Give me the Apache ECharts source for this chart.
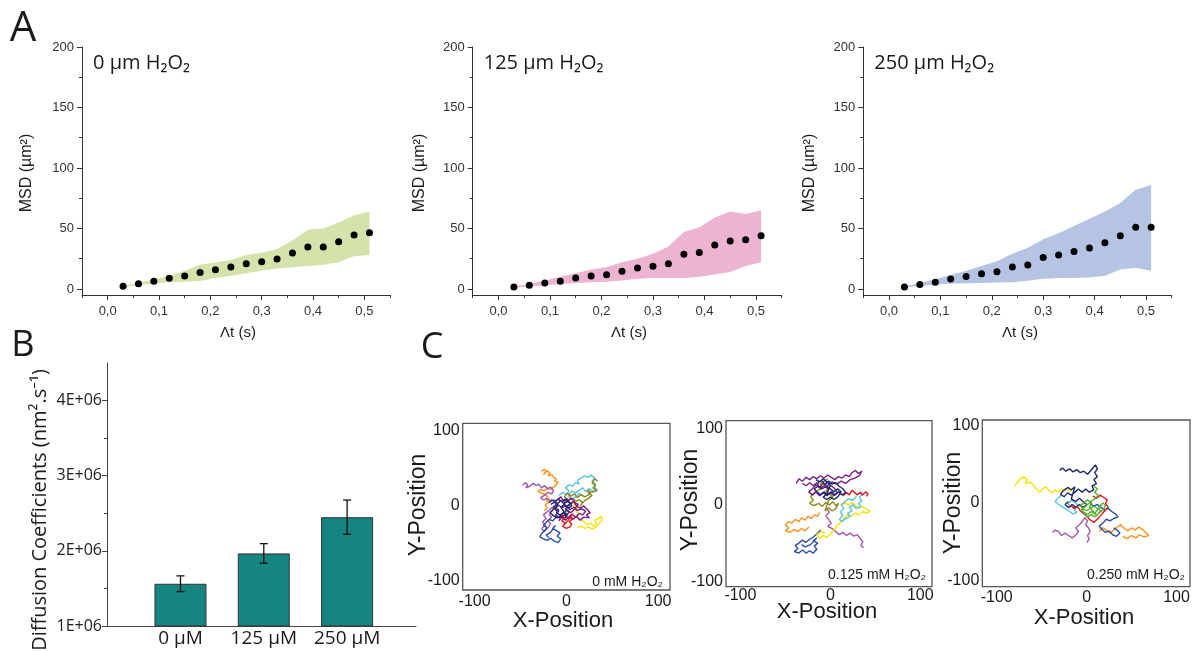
<!DOCTYPE html>
<html><head><meta charset="utf-8">
<script src="https://cdn.jsdelivr.net/npm/echarts@6/dist/echarts.min.js"></script>
<style>html,body{margin:0;padding:0;background:#fff}#c{width:1193px;height:651px}</style>
</head><body><div id="c"></div><script>
// ---------- Panel A data ----------
const dtValues = [0.03,0.06,0.09,0.12,0.15,0.18,0.21,0.24,0.27,0.30,0.33,0.36,0.39,0.42,0.45,0.48,0.51];
const msd0   = [2.2,4.4,6.3,8.8,10.7,13.7,15.9,18.1,20.9,22.5,24.7,29.7,34.6,34.6,39,44.5,46.4];
const msd0Hi = [2.5,5,8,11,15,20,22,24,28,30,33,40,49,50,55,61,64];
const msd0Lo = [1.5,3,4.5,5.5,6,6.5,9,11,13,15,17,18,19,20,22,27,28];
const msd125   = [1.6,3,4.9,6.3,9,10.7,11.8,14.6,17.3,18.7,20.9,28.6,30.2,36.3,39.6,40.7,44];
const msd125Hi = [2,4,7,10,13,16,18,22,25,29,35,47,51,59,64,62,65];
const msd125Lo = [1,2,3,4,5,5.5,6,7,8.5,9,9,9,10,12,14,19,22];
const msd250   = [1.6,3.6,5.5,8.2,10.2,12.6,14.3,18.1,19.8,26.1,28,31,33.8,38.2,44,51,51];
const msd250Hi = [2,5,8,11.5,15,19,23,29,34,41,46,52,58,64,71,82,86];
const msd250Lo = [1.2,2.5,3.5,4.2,4.7,5,5.3,5.5,6.8,8.5,9,9,9.5,11,16,17.5,15];
const aTitles = ['0 µm H₂O₂','125 µm H₂O₂','250 µm H₂O₂'];
const aXTicks = [0,0.1,0.2,0.3,0.4,0.5];
const aXMinor = [-0.05,0.05,0.15,0.25,0.35,0.45,0.55];
const aYTicks = [0,50,100,150,200];
const aYMinor = [25,75,125,175];

// ---------- Panel B data ----------
const bCategories = ['0 µM','125 µM','250 µM'];
const bValues = [1.562e6,1.966e6,2.448e6];
const bErrors = [0.105e6,0.13e6,0.228e6];
const bYTicks = [1e6,2e6,3e6,4e6];
const bYMinor = [1.5e6,2.5e6,3.5e6];

// ---------- Panel C data (trajectories) ----------
const cTicks = [-100,0,100];
const cLabels = ['0 mM H₂O₂','0.125 mM H₂O₂','0.250 mM H₂O₂'];
const c1Orange = [[-27,46],[-24,49],[-22,45],[-25,42],[-21,47],[-18,44],[-20,40],[-16,42],[-14,38],[-11,36],[-13,33],[-9,32],[-11,28],[-14,25],[-17,22],[-21,23],[-24,20],[-28,22],[-31,19],[-27,17],[-23,15],[-20,12],[-22,8],[-19,5],[-23,2],[-21,-3],[-24,-6]];
const c1Violet = [[-48,27],[-45,31],[-42,28],[-44,24],[-40,26],[-36,30],[-33,27],[-30,29],[-27,24],[-24,27],[-20,23],[-17,25],[-14,20],[-16,16],[-20,18],[-24,14],[-28,11],[-25,8],[-21,10],[-17,6],[-13,8],[-10,4],[-13,0],[-17,-4],[-21,-8],[-25,-12],[-22,-17],[-26,-21],[-23,-26],[-27,-30],[-24,-34],[-20,-29],[-17,-24],[-20,-20],[-16,-15],[-19,-11]];
const c1Cyan = [[-8,14],[-4,18],[0,15],[3,20],[-1,24],[3,28],[7,26],[10,31],[14,29],[12,34],[16,37],[20,40],[24,38],[27,41],[31,37],[28,33],[32,29],[30,25],[34,21],[29,19],[25,23],[21,19],[18,24],[14,21],[10,17],[6,20],[2,13],[6,9],[10,12],[14,17],[18,13]];
const c1Olive = [[34,33],[31,36],[28,31],[32,27],[29,24],[33,20],[27,18],[23,21],[25,15],[20,12],[16,15],[12,11],[9,16],[5,13],[1,17],[-2,12],[2,8],[6,10],[10,6],[14,8],[18,4],[15,0],[20,7],[24,10],[28,14],[24,18]];
const c1Yellow = [[6,8],[10,4],[8,0],[12,-3],[10,-7],[14,-10],[11,-14],[15,-18],[19,-21],[23,-25],[27,-23],[30,-27],[33,-24],[31,-19],[35,-17],[38,-14],[39,-19],[36,-23],[33,-28],[28,-31],[24,-28],[20,-30],[16,-27],[12,-29]];
const c1Purple = [[-10,8],[-6,12],[-3,6],[1,9],[4,3],[8,6],[11,0],[15,-3],[19,0],[23,-5],[26,-9],[22,-12],[25,-16],[19,-15],[15,-19],[11,-14],[7,-18],[3,-14],[-1,-19],[-5,-15],[-8,-20],[-4,-10],[0,-6],[5,-9],[9,-4],[13,2],[8,5],[2,1],[-4,-2],[-9,1],[-13,-4],[-9,-8],[-12,-13],[-7,-16],[-2,-12],[2,-16],[6,-11],[10,-15],[14,-10],[18,-12],[21,-7],[17,-4],[12,-6],[8,-2],[4,-5],[0,-1],[-3,3],[1,6],[5,10],[9,7]];
const c1Navy = [[-17,2],[-13,5],[-9,1],[-12,-3],[-8,-6],[-11,-9],[-7,-12],[-3,-9],[0,-13],[3,-8],[-1,-4],[2,0],[5,3],[1,6],[-3,3],[-6,7],[-9,4],[-13,-1],[-15,-6],[-18,-9],[-14,-13],[-10,-16],[-6,-13],[-2,-17],[1,-12],[-3,-7],[-6,-2],[-2,2],[2,-3],[6,0],[3,5],[-1,9],[-5,6],[-9,9],[-12,6],[-16,8],[-19,4]];
const c1Blue = [[-10,-12],[-12,-16],[-15,-20],[-19,-18],[-22,-22],[-25,-26],[-21,-29],[-24,-33],[-27,-37],[-29,-41],[-25,-44],[-21,-46],[-17,-43],[-13,-47],[-9,-49],[-6,-44],[-10,-40],[-7,-36],[-11,-33],[-15,-30],[-12,-26],[-17,-35],[-22,-39],[-19,-42]];
const c1Red = [[-5,-12],[-2,-16],[-5,-20],[-1,-23],[-4,-27],[0,-30],[4,-28],[6,-24],[3,-21],[7,-17],[4,-14],[7,-11],[2,-19],[-2,-25]];

const c2Purple = [[-38,28],[-35,34],[-31,31],[-27,36],[-23,33],[-19,37],[-15,34],[-11,38],[-7,35],[-3,39],[1,36],[5,33],[9,37],[13,35],[17,39],[21,37],[24,42],[28,45],[31,41],[35,44],[32,38],[27,35],[22,33],[17,28],[12,31],[7,27],[2,30],[-3,25],[-8,28],[-12,23],[-16,26],[-20,21],[-24,17],[-20,13],[-16,17],[-12,12],[-8,16],[-4,12],[0,16],[4,12],[8,16],[5,21],[1,25],[-3,21],[-7,25],[-11,21],[-15,29],[-19,25],[-23,29],[-27,25],[-31,28]];
const c2Olive = [[-3,34],[-7,31],[-11,27],[-9,22],[-14,19],[-18,15],[-22,11],[-19,6],[-23,2],[-18,-1],[-13,2],[-9,-2],[-5,3],[-1,0],[3,4],[6,-1],[9,2],[6,-5],[2,-8],[-2,-4],[-6,-8],[-2,6],[3,10],[-1,14],[-5,18],[-1,22],[-6,26],[-10,30]];
const c2Navy = [[-14,28],[-10,32],[-6,27],[-2,31],[2,27],[6,29],[10,24],[14,21],[17,16],[13,13],[9,17],[5,13],[1,17],[-3,13],[-7,17],[-11,13],[-15,17],[-18,21],[-14,24],[-9,21],[-5,24],[0,21],[4,17],[8,21],[12,17],[8,10],[4,7],[0,10],[-4,7],[-8,10],[-4,14],[0,26],[-4,30],[-8,34],[-12,30],[-16,33]];
const c2Red = [[14,12],[18,16],[21,13],[24,19],[27,16],[30,13],[33,16],[36,13],[39,17],[42,14],[40,11]];
const c2Cyan = [[33,18],[36,14],[32,10],[35,5],[31,2],[34,-2],[29,-5],[25,0],[21,-3],[24,-8],[19,-11],[22,-15],[17,-18],[13,-22],[10,-19],[14,-14],[11,-9],[15,-5],[12,0],[16,4],[20,8],[25,6],[29,11]];
const c2Yellow = [[12,-2],[16,3],[20,0],[24,3],[28,-1],[32,-4],[36,-2],[40,-6],[44,-8],[41,-11],[36,-9],[32,-13],[27,-11],[23,-15],[19,-13],[15,-18],[11,-23],[7,-28],[4,-33],[0,-38],[-4,-43],[-8,-40],[-12,-44],[-15,-39],[-10,-35],[-6,-37]];
const c2Orange = [[-12,-10],[-14,-15],[-18,-13],[-21,-18],[-25,-15],[-28,-20],[-32,-17],[-35,-22],[-39,-19],[-43,-24],[-47,-22],[-50,-27],[-46,-30],[-50,-34],[-45,-36],[-40,-32],[-36,-35],[-32,-31],[-28,-34],[-24,-29]];
const c2Blue = [[-11,-33],[-15,-38],[-19,-42],[-23,-45],[-27,-49],[-31,-46],[-35,-50],[-39,-53],[-36,-57],[-40,-61],[-35,-63],[-31,-59],[-27,-63],[-23,-60],[-19,-63],[-15,-58],[-18,-54],[-14,-50],[-19,-47],[-15,-43],[-22,-52],[-28,-55],[-32,-52]];
const c2Violet = [[-4,-5],[-1,-10],[-5,-14],[-2,-19],[1,-24],[-3,-28],[2,-31],[6,-35],[10,-39],[14,-36],[18,-40],[22,-37],[26,-41],[30,-39],[33,-44],[36,-48],[34,-53],[37,-56]];

const c3Navy = [[-30,42],[-27,45],[-23,41],[-19,44],[-15,40],[-11,43],[-7,39],[-3,41],[1,37],[4,41],[7,45],[10,49],[12,44],[9,39],[12,34],[8,30],[11,25],[6,22],[8,17],[3,14],[-1,18],[-5,14],[-9,18],[-13,14],[-17,10],[-21,13],[-25,8],[-29,11],[-26,16],[-21,20],[-17,17],[-13,21],[-17,5],[-12,2],[-8,6],[-4,2],[0,-2],[-4,-6],[-8,-2],[-12,-6],[-16,-2],[-20,-6],[-24,-2],[-20,2]];
const c3Yellow = [[-80,22],[-77,26],[-74,31],[-70,34],[-66,30],[-68,25],[-63,27],[-59,23],[-56,18],[-52,14],[-49,18],[-45,21],[-42,16],[-38,13],[-35,17],[-31,14],[-28,18],[-25,15],[-21,19],[-18,15],[-15,18]];
const c3Cyan = [[-28,10],[-32,6],[-35,2],[-31,-2],[-27,-5],[-23,-8],[-19,-11],[-15,-14],[-11,-12],[-14,-7],[-10,-3],[-13,1],[-17,3],[-21,-1],[-17,-4]];
const c3Green = [[8,22],[12,18],[9,14],[13,10],[10,6],[6,3],[2,-1],[-2,-5],[-6,-8],[-3,-12],[1,-15],[5,-11],[9,-14],[12,-9],[15,-4],[18,0],[21,-3],[19,-8],[15,-12],[11,-16],[7,-10],[3,-5],[6,0],[1,4],[-3,0],[-7,-3],[-4,-8],[0,-10],[4,-7],[8,-4],[12,-7],[16,-10],[13,-14],[9,-18],[5,-15],[1,-18],[-3,-14]];
const c3Red = [[-18,-3],[-14,-7],[-10,-5],[-7,-10],[-3,-14],[1,-18],[4,-22],[8,-25],[12,-21],[15,-17],[18,-13],[21,-9],[24,-5],[21,-1],[23,4],[19,7],[15,10],[11,6],[7,9]];
const c3Blue = [[4,-1],[8,-4],[12,-2],[16,-6],[20,-9],[24,-7],[28,-11],[32,-14],[35,-18],[30,-20],[26,-23],[22,-21],[18,-26],[14,-30],[17,-34],[21,-38],[25,-36],[29,-41],[33,-43],[37,-39],[34,-35],[30,-32]];
const c3Orange = [[14,-36],[18,-32],[22,-35],[26,-39],[30,-35],[34,-31],[38,-28],[42,-33],[46,-36],[50,-32],[54,-35],[58,-31],[62,-34],[66,-38],[69,-42],[64,-44],[59,-41],[55,-45],[50,-42],[45,-46],[40,-43]];
const c3Violet = [[-38,-38],[-35,-35],[-31,-37],[-28,-42],[-24,-39],[-20,-42],[-16,-45],[-12,-41],[-9,-37],[-12,-32],[-8,-28],[-5,-24],[-2,-19],[1,-23],[-1,-28],[2,-32],[4,-37],[1,-42],[3,-47],[0,-51]];

const COL = {orange:'#f7931e', cyan:'#5cc4e0', olive:'#8c8a1c', violet:'#a558ab', purple:'#7b1f86', navy:'#1f2870', blue:'#2b4fa6', red:'#e8151c', yellow:'#f2e20a', green:'#52b02c'};
const c1Tracks = [[c1Orange,COL.orange],[c1Violet,COL.violet],[c1Cyan,COL.cyan],[c1Olive,COL.olive],[c1Yellow,COL.yellow],[c1Blue,COL.blue],[c1Purple,COL.purple],[c1Navy,COL.navy],[c1Red,COL.red]];
const c2Tracks = [[c2Orange,COL.orange],[c2Blue,COL.blue],[c2Violet,COL.violet],[c2Yellow,COL.yellow],[c2Cyan,COL.cyan],[c2Red,COL.red],[c2Olive,COL.olive],[c2Purple,COL.purple],[c2Navy,COL.navy]];
const c3Tracks = [[c3Yellow,COL.yellow],[c3Violet,COL.violet],[c3Orange,COL.orange],[c3Cyan,COL.cyan],[c3Blue,COL.blue],[c3Navy,COL.navy],[c3Red,COL.red],[c3Green,COL.green]];

// ---------- build ----------
const grids=[], xAxes=[], yAxes=[], series=[], graphics=[];
const ARIAL='"Liberation Sans", Arial, sans-serif';
const OPEN='"Open Sans", "Noto Sans", sans-serif';
const AX='#333';

function text(x,y,t,size,family,opts){
  opts=opts||{};
  graphics.push({type:'text', x:x, y:y, rotation:opts.rot||0, z:100,
    style:{text:t, fontSize:size, fontFamily:family, fill:opts.color||'#1a1a1a',
      align:opts.align||'center', verticalAlign:'middle', fontWeight:opts.weight||'normal'}});
}

// Panel A
const aGrids = [{left:82,top:47,width:308,height:248},{left:472.7,top:47,width:309,height:248},{left:863.3,top:47,width:308.4,height:248}];
const aSets = [[msd0,msd0Lo,msd0Hi,'#d3e3ab'],[msd125,msd125Lo,msd125Hi,'#ecb4d0'],[msd250,msd250Lo,msd250Hi,'#b4c4e2']];
aGrids.forEach((g,i)=>{
  const gi=grids.length; grids.push(g);
  const xi=xAxes.length;
  xAxes.push({gridIndex:gi,type:'value',min:-0.05,max:0.55,position:'bottom',
    axisLine:{show:true,onZero:false,lineStyle:{color:AX,width:1}},
    axisTick:{show:true,length:5,customValues:aXTicks,lineStyle:{color:AX}},
    axisLabel:{show:true,customValues:aXTicks,formatter:v=>v.toFixed(1).replace('.',','),fontSize:13,color:'#333',fontFamily:ARIAL,margin:10},
    splitLine:{show:false}});
  xAxes.push({gridIndex:gi,type:'value',min:-0.05,max:0.55,position:'bottom',
    axisLine:{show:false,onZero:false},axisTick:{show:true,length:3,customValues:aXMinor,lineStyle:{color:AX}},
    axisLabel:{show:false},splitLine:{show:false}});
  const yi=yAxes.length;
  yAxes.push({gridIndex:gi,type:'value',min:-5,max:200,position:'left',
    axisLine:{show:true,onZero:false,lineStyle:{color:AX,width:1}},
    axisTick:{show:true,length:5,customValues:aYTicks,lineStyle:{color:AX}},
    axisLabel:{show:true,customValues:aYTicks,fontSize:13,color:'#333',fontFamily:ARIAL,margin:8},
    splitLine:{show:false}});
  yAxes.push({gridIndex:gi,type:'value',min:-5,max:200,position:'left',
    axisLine:{show:false,onZero:false},axisTick:{show:true,length:3,customValues:aYMinor,lineStyle:{color:AX}},
    axisLabel:{show:false},splitLine:{show:false}});
  const [m,lo,hi,col]=aSets[i];
  series.push({type:'custom',xAxisIndex:xi,yAxisIndex:yi,silent:true,z:1,
    data:dtValues.map((x,k)=>[x,lo[k],hi[k]]),
    encode:{x:0,y:[1,2]},
    renderItem:function(params,api){
      if(params.dataIndex!==0) return null;
      const pts=[];
      for(let k=0;k<dtValues.length;k++) pts.push(api.coord([dtValues[k],hi[k]]));
      for(let k=dtValues.length-1;k>=0;k--) pts.push(api.coord([dtValues[k],lo[k]]));
      return {type:'polygon',shape:{points:pts},style:{fill:col}};
    }});
  series.push({type:'scatter',xAxisIndex:xi,yAxisIndex:yi,z:3,symbolSize:7,
    itemStyle:{color:'#000',opacity:1},data:dtValues.map((x,k)=>[x,m[k]])});
  text(g.left+11, 63, aTitles[i], 20, OPEN, {align:'left'});
});
text(27,173,'MSD (µm²)',16,ARIAL,{rot:Math.PI/2});
text(419.5,173,'MSD (µm²)',16,ARIAL,{rot:Math.PI/2});
text(809.5,173,'MSD (µm²)',16,ARIAL,{rot:Math.PI/2});
text(238,333,'Λt (s)',15,ARIAL);
text(629,333,'Λt (s)',15,ARIAL);
text(1020,333,'Λt (s)',15,ARIAL);
text(23,29,'A',42,OPEN);
text(23,346,'B',36,OPEN);
text(432,348,'C',36,OPEN);

// Panel B
{
  const gi=grids.length; grids.push({left:107,top:363,width:309,height:263});
  const xi=xAxes.length;
  xAxes.push({gridIndex:gi,type:'value',min:0.118,max:3.827,position:'bottom',
    axisLine:{show:true,onZero:false,lineStyle:{color:'#444',width:1}},axisTick:{show:false},
    axisLabel:{show:true,customValues:[1,2,3],formatter:v=>bCategories[Math.round(v)-1],fontSize:19,color:'#1a1a1a',fontFamily:OPEN,margin:3},
    splitLine:{show:false}});
  const yi=yAxes.length;
  yAxes.push({gridIndex:gi,type:'value',min:1e6,max:4.5e6,position:'left',
    axisLine:{show:true,onZero:false,lineStyle:{color:'#444',width:1}},
    axisTick:{show:true,length:5,customValues:bYTicks,lineStyle:{color:'#444'}},
    axisLabel:{show:true,customValues:bYTicks,formatter:v=>Math.round(v/1e6)+'E+06',fontSize:16,color:'#222',fontFamily:OPEN,margin:5},
    splitLine:{show:false}});
  yAxes.push({gridIndex:gi,type:'value',min:1e6,max:4.5e6,position:'left',
    axisLine:{show:false,onZero:false},axisTick:{show:true,length:3,customValues:bYMinor,lineStyle:{color:'#444'}},
    axisLabel:{show:false},splitLine:{show:false}});
  series.push({type:'bar',xAxisIndex:xi,yAxisIndex:yi,barWidth:52,z:2,
    itemStyle:{color:'#168480',borderColor:'#333',borderWidth:1},
    data:bValues.map((v,k)=>[k+1,v])});
  series.push({type:'custom',xAxisIndex:xi,yAxisIndex:yi,z:5,
    data:bValues.map((v,k)=>[k+1,v,bErrors[k]]),
    encode:{x:0,y:1},
    renderItem:function(params,api){
      const x=api.value(0),v=api.value(1),e=api.value(2);
      const t=api.coord([x,v+e]), b=api.coord([x,v-e]);
      const st={stroke:'#111',lineWidth:1.3};
      return {type:'group',children:[
        {type:'line',shape:{x1:t[0],y1:t[1],x2:b[0],y2:b[1]},style:st},
        {type:'line',shape:{x1:t[0]-4,y1:t[1],x2:t[0]+4,y2:t[1]},style:st},
        {type:'line',shape:{x1:b[0]-4,y1:b[1],x2:b[0]+4,y2:b[1]},style:st}]};
    }});
  text(40,510,'Diffusion Coefficients (nm².s⁻¹)',20,OPEN,{rot:Math.PI/2});
}

// Panel C
const cGrids = [
  {g:{left:462.7,top:423.3,width:207.3,height:166.7}, x:[-113,113], y:[-112,110], tracks:c1Tracks, m:4},
  {g:{left:726,top:420.7,width:206,height:166}, x:[-116,113], y:[-107,110], tracks:c2Tracks, m:1},
  {g:{left:982.3,top:420,width:207.7,height:166.7}, x:[-116,115], y:[-108,107], tracks:c3Tracks, m:3}
];
cGrids.forEach((c,i)=>{
  const gi=grids.length;
  grids.push(Object.assign({show:true,borderColor:'#555',borderWidth:1.3,backgroundColor:'transparent'},c.g));
  const xi=xAxes.length;
  xAxes.push({gridIndex:gi,type:'value',min:c.x[0],max:c.x[1],position:'bottom',
    axisLine:{show:false,onZero:false},axisTick:{show:false},
    axisLabel:{show:true,customValues:cTicks,fontSize:16,color:'#1a1a1a',fontFamily:ARIAL,margin:c.m},
    splitLine:{show:false}});
  const yi=yAxes.length;
  yAxes.push({gridIndex:gi,type:'value',min:c.y[0],max:c.y[1],position:'left',
    axisLine:{show:false,onZero:false},axisTick:{show:false},
    axisLabel:{show:true,customValues:cTicks,fontSize:16,color:'#1a1a1a',fontFamily:ARIAL,margin:3},
    splitLine:{show:false}});
  c.tracks.forEach(([pts,col])=>{
    series.push({type:'line',xAxisIndex:xi,yAxisIndex:yi,showSymbol:false,symbol:'none',
      lineStyle:{color:col,width:1.4},data:pts,z:2,silent:true});
  });
});
text(563,621,'X-Position',22,ARIAL);
text(827,612,'X-Position',22,ARIAL);
text(1084,618,'X-Position',22,ARIAL);
text(419,505,'Y-Position',23,ARIAL,{rot:Math.PI/2});
text(691,500,'Y-Position',23,ARIAL,{rot:Math.PI/2});
text(954,503,'Y-Position',23,ARIAL,{rot:Math.PI/2});
text(663,582,cLabels[0],14,ARIAL,{align:'right'});
text(926,575,cLabels[1],14,ARIAL,{align:'right'});
text(1185,575,cLabels[2],14,ARIAL,{align:'right'});

const chart = echarts.init(document.getElementById('c'), null, {renderer:'canvas'});
chart.setOption({animation:false, backgroundColor:'#fff', grid:grids, xAxis:xAxes, yAxis:yAxes, series:series, graphic:graphics});
</script></body></html>
